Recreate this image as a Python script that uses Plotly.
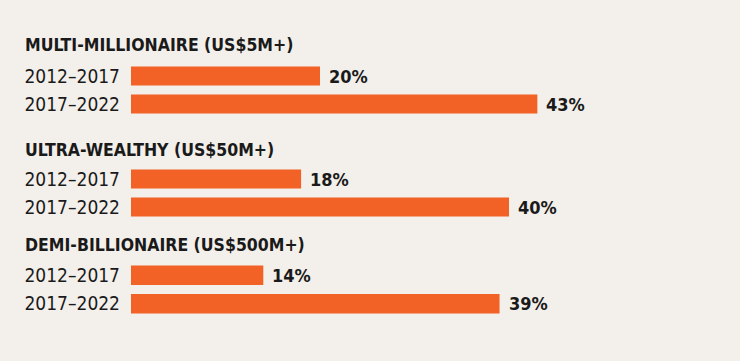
import plotly.graph_objects as go

groups = ["MULTI-MILLIONAIRE (US$5M+)", "ULTRA-WEALTHY (US$50M+)", "DEMI-BILLIONAIRE (US$500M+)"]
periods = ["2012–2017", "2017–2022"]
values = [[20, 43], [18, 40], [14, 39]]

BG = "#f3efea"
BAR = "#f26125"
FONT = "DejaVu Sans Condensed, Liberation Sans Narrow, Arial Narrow, sans-serif"
W, H = 740, 361

def py(px):
    return 1 - px / H

domains = [(62, 118), (165, 221), (261, 318)]
title_y = [45, 150, 245]

fig = go.Figure()
annotations = []
for i, (g, vals) in enumerate(zip(groups, values)):
    yref = "y" if i == 0 else f"y{i+1}"
    xref = "x" if i == 0 else f"x{i+1}"
    fig.add_trace(go.Bar(
        x=vals, y=periods, orientation="h",
        marker=dict(color=BAR, line=dict(width=0)),
        width=0.68, xaxis=xref, yaxis=yref,
        hoverinfo="skip", showlegend=False,
    ))
    for p, v in zip(periods, vals):
        annotations.append(dict(
            x=v, y=p, xref=xref, yref=yref, text=f"<b>{v}%</b>",
            showarrow=False, xanchor="left", yanchor="middle", xshift=7, yshift=0,
            font=dict(family=FONT, size=18, color="#1a1a1a"),
        ))
    annotations.append(dict(
        x=23 / W, y=py(title_y[i]), xref="paper", yref="paper",
        text=f"<b>{g}</b>", showarrow=False, xanchor="left", yanchor="middle",
        font=dict(family=FONT, size=17.5, color="#1a1a1a"),
    ))

layout = dict(
    width=W, height=H, paper_bgcolor=BG, plot_bgcolor=BG,
    margin=dict(l=0, r=0, t=0, b=0),
    annotations=annotations,
)
x_dom = [131 / W, (131 + 9.45 * 50) / W]
for i in range(3):
    sfx = "" if i == 0 else str(i + 1)
    top, bot = domains[i]
    layout[f"xaxis{sfx}"] = dict(
        domain=x_dom, range=[0, 50], visible=False, fixedrange=True,
        anchor=f"y{sfx}",
    )
    layout[f"yaxis{sfx}"] = dict(
        domain=[py(bot), py(top)], categoryorder="array", categoryarray=periods,
        tickmode="array", tickvals=periods, ticktext=periods,
        autorange="reversed", showgrid=False, zeroline=False, showline=False,
        ticks="", ticklabelstandoff=10, anchor=f"x{sfx}", fixedrange=True,
        tickfont=dict(family=FONT, size=19, color="#1a1a1a"),
    )
fig.update_layout(**layout)
fig.write_html(
    "out.html",
    config={"displayModeBar": False},
    post_script=f"document.body.style.margin='0';document.body.style.background='{BG}';",
)
